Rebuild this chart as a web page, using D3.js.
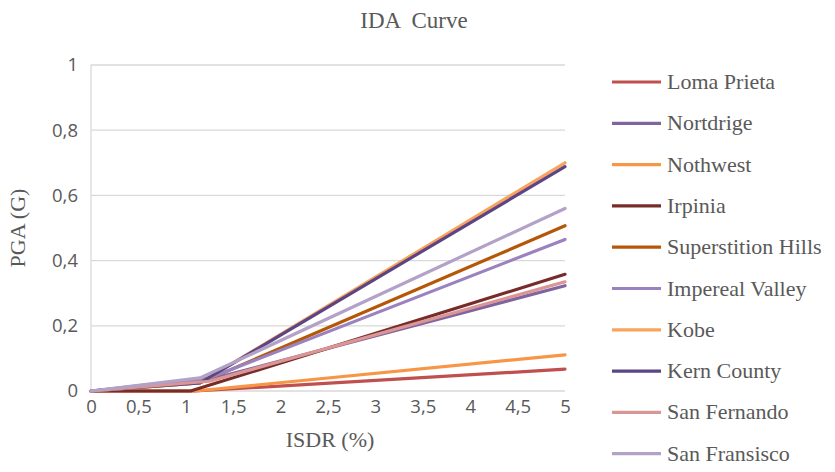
<!DOCTYPE html>
<html><head><meta charset="utf-8">
<script src="https://cdn.jsdelivr.net/npm/d3@7"></script>
<style>body{margin:0;background:#fff}svg{display:block}</style>
</head><body>
<svg id="c" width="835" height="472"></svg>
<script>
const seriesNames = ["Loma Prieta","Nortdrige","Nothwest","Irpinia","Superstition Hills","Impereal Valley","Kobe","Kern County","San Fernando","San Fransisco"];
const seriesColors = ["#C0504D","#8064A2","#F79646","#772C2A","#B65708","#9A82C0","#F9A35C","#5C4585","#D99694","#B3A2C7"];
const isdrLoma = [0,1.1,5],   pgaLoma = [0,0,0.067];
const isdrNort = [0,1.25,5],  pgaNort = [0,0.035,0.323];
const isdrNoth = [0,1.1,5],   pgaNoth = [0,0,0.111];
const isdrIrp  = [0,1.05,5],  pgaIrp  = [0,0,0.358];
const isdrSup  = [0,1.15,5],  pgaSup  = [0,0.025,0.507];
const isdrImp  = [0,1.25,5],  pgaImp  = [0,0.04,0.465];
const isdrKobe = [0,1.15,5],  pgaKobe = [0,0.025,0.700];
const isdrKern = [0,1.15,5],  pgaKern = [0,0.025,0.688];
const isdrSFe  = [0,1.25,5],  pgaSFe  = [0,0.03,0.335];
const isdrSFr  = [0,1.15,5],  pgaSFr  = [0,0.04,0.560];
const xTicks = [0,0.5,1,1.5,2,2.5,3,3.5,4,4.5,5];
const yTicks = [0,0.2,0.4,0.6,0.8,1];

const xs = [isdrLoma,isdrNort,isdrNoth,isdrIrp,isdrSup,isdrImp,isdrKobe,isdrKern,isdrSFe,isdrSFr];
const ys = [pgaLoma,pgaNort,pgaNoth,pgaIrp,pgaSup,pgaImp,pgaKobe,pgaKern,pgaSFe,pgaSFr];

const svg = d3.select("#c");
const L=91,R=565,T=65,B=391;
const x = d3.scaleLinear().domain([0,5]).range([L,R]);
const y = d3.scaleLinear().domain([0,1]).range([B,T]);
const fmt = d => String(d).replace(".",",");
const serif = "'Liberation Serif','DejaVu Serif',serif";
const sans = "'Open Sans','Liberation Sans',sans-serif";
const grey = "#595959";

// gridlines
svg.append("g").selectAll("line").data(yTicks).join("line")
  .attr("x1",L).attr("x2",R).attr("y1",d=>y(d)).attr("y2",d=>y(d))
  .attr("stroke","#D9D9D9").attr("stroke-width",1.3);
svg.append("line").attr("x1",L).attr("x2",L).attr("y1",T).attr("y2",B)
  .attr("stroke","#D9D9D9").attr("stroke-width",1.3);

// axes labels via d3 axes
const yAxis = svg.append("g").attr("transform",`translate(${L-10},0)`)
  .call(d3.axisLeft(y).tickValues(yTicks).tickFormat(fmt).tickSize(0));
yAxis.select(".domain").remove();
yAxis.selectAll("text").attr("fill",grey).style("font-family",sans).style("font-size","18.5px");
const xAxis = svg.append("g").attr("transform",`translate(0,${B+6})`)
  .call(d3.axisBottom(x).tickValues(xTicks).tickFormat(fmt).tickSize(0));
xAxis.select(".domain").remove();
xAxis.selectAll("text").attr("fill",grey).style("font-family",sans).style("font-size","18.5px");

// lines
const line = d3.line().x(d=>x(d[0])).y(d=>y(d[1]));
xs.forEach((xa,i)=>{
  svg.append("path").datum(xa.map((v,j)=>[v,ys[i][j]]))
    .attr("d",line).attr("fill","none").attr("stroke",seriesColors[i])
    .attr("stroke-width",3.2).attr("stroke-linejoin","round").attr("stroke-linecap","round");
});

// titles
svg.append("text").attr("x",414).attr("y",28).attr("text-anchor","middle")
  .attr("fill",grey).style("font-family",serif).style("font-size","23px")
  .attr("xml:space","preserve").text("IDA  Curve");
svg.append("text").attr("x",330).attr("y",447).attr("text-anchor","middle")
  .attr("fill",grey).style("font-family",serif).style("font-size","22px").text("ISDR (%)");
svg.append("text").attr("transform",`translate(25,228) rotate(-90)`).attr("text-anchor","middle")
  .attr("fill",grey).style("font-family",serif).style("font-size","22px").text("PGA (G)");

// legend
const lg = svg.append("g");
seriesNames.forEach((n,i)=>{
  const yy = 82 + i*41.3;
  lg.append("line").attr("x1",612).attr("x2",661).attr("y1",yy).attr("y2",yy)
    .attr("stroke",seriesColors[i]).attr("stroke-width",3.2);
  lg.append("text").attr("x",667).attr("y",yy+7).attr("fill",grey)
    .style("font-family",serif).style("font-size","22px").text(n);
});
</script>
</body></html>
